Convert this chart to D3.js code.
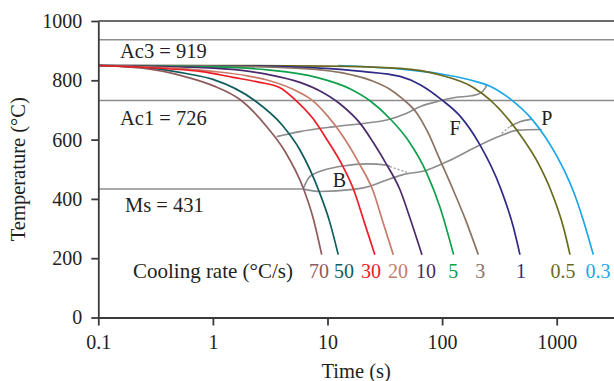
<!DOCTYPE html>
<html lang="en">
<head>
<meta charset="UTF-8">
<title>Cooling curves</title>
<script src="https://d3js.org/d3.v7.min.js"></script>
<style>
  body { margin: 0; background: #fff; }
  text { font-family: "Liberation Serif", "DejaVu Serif", serif; fill: #231f20; }
  .axis text { font-size: 20px; fill: #231f20; }
  .axis path, .axis line { stroke: #3a3a3a; stroke-width: 1.8px; }
  .crit { stroke: #8c8c8c; stroke-width: 1.5px; fill: none; }
  .trans { stroke: #8c8c8c; stroke-width: 1.6px; fill: none; }
  .trans-dash { stroke: #9a9a9a; stroke-width: 1.3px; fill: none; stroke-dasharray: 2,2; }
  .curve { fill: none; stroke-width: 1.7px; }
</style>
</head>
<body>
<div id="chart"></div>
<script>
// cooling rates (°C/s) and their colours
var rates = ["70", "50", "30", "20", "10", "5", "3", "1", "0.5", "0.3"];
var colors = ["#8e5a5c", "#0f5c5c", "#ee1c25", "#c67b6a", "#4a2a6c", "#10a04b", "#8c7361", "#2e2a86", "#6a6a1e", "#1ba8e6"];
// where each rate label sits along the time axis
var rateLabelTimes = [8.43, 13.9, 24, 41.3, 72.4, 125, 215, 488, 1136, 2291];

// cooling curves, [time s, temperature °C]
var c70 = [[0.1, 850], [0.3, 836], [0.6, 810], [1, 782], [1.78, 731], [3, 640], [4.26, 560], [6.15, 436], [7.5, 335], [8.9, 212]];
var c50 = [[0.1, 850], [0.3, 840], [0.6, 822], [1, 803], [2.33, 731], [4, 650], [5.75, 565], [8.47, 424], [10.5, 320], [12.4, 212]];
var c30 = [[0.1, 850], [0.4, 839], [0.8, 829], [1.5, 810], [2.5, 794], [3.85, 775], [5.2, 735], [7.5, 670], [10, 597], [12.9, 527], [16.8, 434], [21, 320], [25.9, 212]];
var c20 = [[0.1, 850], [0.5, 840], [1, 830], [2, 815], [2.97, 801], [5.75, 758], [7.5, 730], [10, 680], [12.9, 625], [19.2, 515], [25.1, 425], [30, 330], [37.5, 212]];
var c10 = [[0.1, 850], [1, 841], [3, 820], [5.75, 793], [8.6, 764], [12.9, 720], [19.9, 648], [25.1, 590], [32.9, 515], [43, 430], [52.5, 335], [66.7, 212]];
var c5 = [[0.1, 850], [1, 845], [3, 835], [8, 810], [16, 770], [23.5, 731], [36, 666], [50, 600], [73.4, 487], [95.9, 372], [126, 212]];
var c3 = [[0.1, 850], [1, 848], [5.75, 840], [16.8, 817], [25, 797], [35, 770], [45, 738], [60, 690], [75, 625], [95, 535], [125, 430], [160, 330], [207, 212]];
var c1 = [[0.1, 850], [1, 849], [8.6, 841], [20, 830], [43, 813], [64.3, 785], [99.3, 734], [143, 680], [214, 582], [320, 441], [418, 306], [478, 212]];
var c05 = [[0.1, 850], [1, 850], [10, 848], [43, 840], [95.9, 818], [187, 776], [262, 734], [448, 632], [715, 509], [874, 436], [1142, 306], [1307, 212]];
var c03 = [[12.4, 850], [43, 838], [95.9, 822], [180, 800], [262, 780], [400, 735], [605, 670], [800, 607], [1000, 545], [1200, 485], [1400, 425], [1700, 330], [2086, 212]];
var curves = [c70, c50, c30, c20, c10, c5, c3, c1, c05, c03];

// critical temperatures: where the lines are drawn, and their labels
var critLines = [937, 732];
var critLabels = ["Ac3 = 919", "Ac1 = 726", "Ms = 431"];

// transformation lines
var msLine = [[0.1, 433], [6.15, 433]];
var ferriteStart = [[3.6, 610], [5.75, 627], [11.2, 643], [22, 656], [32.9, 666], [49.1, 689], [64.1, 711], [95.9, 731], [130, 742], [181, 748], [214, 756], [237, 773], [245, 784]];
var bainiteUpper = [[6.15, 436], [6.8, 469], [7.78, 486], [9.84, 500], [13.7, 511], [22, 518], [32.9, 514], [35.1, 509]];
var bainiteDash = [[35.1, 509], [52.5, 486]];
var lowerLine = [[6.15, 433], [8.6, 425], [16.8, 432], [23.5, 443], [32.9, 464], [45, 481], [73.4, 497], [109.6, 525], [214, 582], [320, 612], [463, 632], [740, 634]];
var pearliteDash = [[331, 621], [392, 644]];
var pearliteUpper = [[392, 644], [478, 660], [605, 669]];

var xTicks = [0.1, 1, 10, 100, 1000];
var yTicks = [0, 200, 400, 600, 800, 1000];

var width = 614, height = 381;
var margin = { top: 21, right: 0, bottom: 63.5, left: 98.3 };

var svg = d3.select("#chart").append("svg")
    .attr("width", width)
    .attr("height", height);

var x = d3.scaleLog()
    .domain([0.1, Math.pow(10, 3.5)])
    .range([margin.left, width - margin.right]);

var y = d3.scaleLinear()
    .domain([0, 1000])
    .range([height - margin.bottom, margin.top]);

var line = d3.line()
    .x(d => x(d[0]))
    .y(d => y(d[1]))
    .curve(d3.curveMonotoneX);

// top border
svg.append("line")
    .attr("x1", x.range()[0]).attr("x2", x.range()[1])
    .attr("y1", y(1000)).attr("y2", y(1000))
    .attr("stroke", "#3a3a3a").attr("stroke-width", 1.6);

// Ac3 / Ac1 lines
svg.selectAll(".crit")
    .data(critLines)
    .enter().append("line")
    .attr("class", "crit")
    .attr("x1", x.range()[0]).attr("x2", x.range()[1])
    .attr("y1", d => y(d)).attr("y2", d => y(d));

svg.append("path").datum(msLine).attr("class", "crit").attr("d", line);
svg.append("path").datum(ferriteStart).attr("class", "trans").attr("d", line);
svg.append("path").datum(bainiteUpper).attr("class", "trans").attr("d", line);
svg.append("path").datum(lowerLine).attr("class", "trans").attr("d", line);
svg.append("path").datum(pearliteUpper).attr("class", "trans").attr("d", line);
svg.append("path").datum(bainiteDash).attr("class", "trans-dash").attr("d", line);
svg.append("path").datum(pearliteDash).attr("class", "trans-dash").attr("d", line);

// cooling curves, slowest first, red on top
var order = d3.range(curves.length).reverse();
order.push(order.splice(order.indexOf(2), 1)[0]);
svg.selectAll(".curve")
    .data(order)
    .enter().append("path")
    .attr("class", "curve")
    .attr("stroke", i => colors[i])
    .attr("d", i => line(curves[i]));

// axes
svg.append("g")
    .attr("class", "axis")
    .attr("transform", `translate(0,${y(0)})`)
    .call(d3.axisBottom(x).tickValues(xTicks).tickFormat(d => String(d))
        .tickSize(8).tickSizeOuter(0).tickPadding(9));

svg.append("g")
    .attr("class", "axis")
    .attr("transform", `translate(${x(0.1)},0)`)
    .call(d3.axisLeft(y).tickValues(yTicks).tickFormat(d3.format("d"))
        .tickSize(7).tickSizeOuter(0).tickPadding(9));

svg.selectAll(".axis text").attr("font-family", null);

// axis titles
svg.append("text")
    .attr("x", (x.range()[0] + x.range()[1]) / 2)
    .attr("y", 378)
    .attr("text-anchor", "middle")
    .style("font-size", "20.5px")
    .text("Time (s)");

svg.append("text")
    .attr("transform", `translate(18,${(y(0) + y(1000)) / 2}) rotate(-90)`)
    .attr("text-anchor", "middle")
    .attr("dy", "0.35em")
    .style("font-size", "20.5px")
    .text("Temperature (°C)");

// critical temperature labels
var critY = [y(critLines[0]) + 18, y(critLines[1]) + 25, y(msLine[0][1]) + 23];
var critX = [120, 120, 125];
svg.selectAll(".crit-label")
    .data(critLabels)
    .enter().append("text")
    .attr("class", "crit-label")
    .attr("x", (d, i) => critX[i])
    .attr("y", (d, i) => critY[i])
    .style("font-size", "20.5px")
    .text(d => d);

// phase labels
svg.append("text").attr("x", x(12.7)).attr("y", y(464)).attr("dy", "0.35em")
    .attr("text-anchor", "middle").style("font-size", "20px").text("B");
svg.append("text").attr("x", x(129.6)).attr("y", y(639)).attr("dy", "0.35em")
    .attr("text-anchor", "middle").style("font-size", "20px").text("F");
svg.append("text").attr("x", x(818)).attr("y", y(673)).attr("dy", "0.35em")
    .attr("text-anchor", "middle").style("font-size", "20px").text("P");

// cooling rate labels
svg.append("text")
    .attr("x", 293)
    .attr("y", 278)
    .attr("text-anchor", "end")
    .style("font-size", "21px")
    .text("Cooling rate (°C/s)");

svg.selectAll(".rate")
    .data(rates)
    .enter().append("text")
    .attr("class", "rate")
    .attr("x", (d, i) => x(rateLabelTimes[i]))
    .attr("y", 278)
    .attr("text-anchor", "middle")
    .style("font-size", "20px")
    .style("fill", (d, i) => colors[i])
    .text(d => d);
</script>
</body>
</html>
